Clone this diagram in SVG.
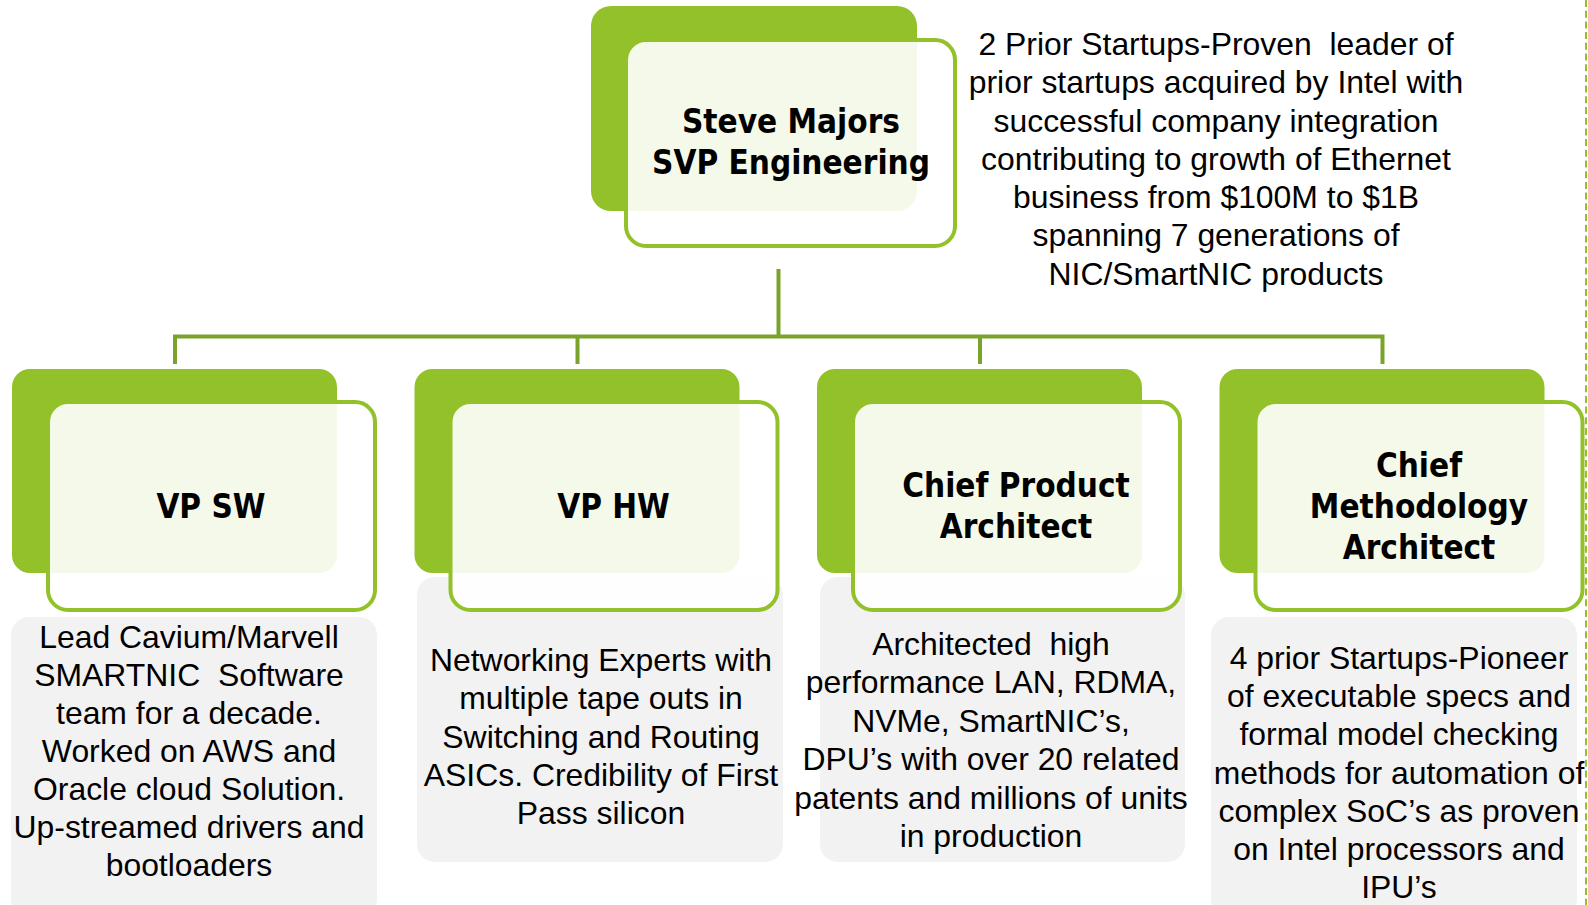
<svg xmlns="http://www.w3.org/2000/svg" width="1588" height="905" viewBox="0 0 1588 905">
  <style>
    .back { fill: #93c12a; }
    .front { fill: #ffffff; fill-opacity: 0.9; stroke: #93c12a; stroke-width: 4; }
    .note { fill: #f2f2f2; }
    .title { font-family: "DejaVu Sans Condensed", "DejaVu Sans", sans-serif; font-weight: bold; font-size: 33px; text-anchor: middle; fill: #000; }
    .body { font-family: "Liberation Sans", Arial, sans-serif; font-size: 31.9px; text-anchor: middle; fill: #000; }
    .link { fill: none; stroke: #7aa32b; stroke-width: 4; }
    .edge { fill: none; stroke: #93c12a; stroke-width: 2; stroke-dasharray: 7 3.7; }
  </style>

  <!-- reporting lines -->
  <g id="connectors">
    <path class="link" d="M778.5 269 V336.5"/>
    <path class="link" d="M175 364 V336.5 H1382.5 V364"/>
    <path class="link" d="M577.5 336.5 V364"/>
    <path class="link" d="M980 336.5 V364"/>
  </g>

  <!-- head of engineering -->
  <g id="svp">
    <rect class="back" x="591" y="6" width="326" height="205" rx="20"/>
    <rect class="front" x="626" y="40" width="329" height="206" rx="20"/>
    <text class="title" x="791" y="133">Steve Majors</text>
    <text class="title" x="791" y="174">SVP Engineering</text>
  </g>

  <g id="svp-summary">
    <text class="body" x="1216" y="55">2 Prior Startups-Proven &#160;leader of<tspan x="1216" dy="38.25">prior startups acquired by Intel with</tspan><tspan x="1216" dy="38.25">successful company integration</tspan><tspan x="1216" dy="38.25">contributing to growth of Ethernet</tspan><tspan x="1216" dy="38.25">business from $100M to $1B</tspan><tspan x="1216" dy="38.25">spanning 7 generations of</tspan><tspan x="1216" dy="38.25">NIC/SmartNIC products</tspan></text>
  </g>

  <!-- direct reports -->
  <g id="vp-sw">
    <rect class="note" x="11" y="617" width="366" height="300" rx="18"/>
    <rect class="back" x="12" y="369" width="325" height="204" rx="18"/>
    <rect class="front" x="48" y="402" width="327" height="208" rx="20"/>
    <text class="title" x="211" y="518">VP SW</text>
    <text class="body" x="189" y="648">Lead Cavium/Marvell<tspan x="189" dy="38">SMARTNIC &#160;Software</tspan><tspan x="189" dy="38">team for a decade.</tspan><tspan x="189" dy="38">Worked on AWS and</tspan><tspan x="189" dy="38">Oracle cloud Solution.</tspan><tspan x="189" dy="38">Up-streamed drivers and</tspan><tspan x="189" dy="38">bootloaders</tspan></text>
  </g>

  <g id="vp-hw">
    <rect class="note" x="417" y="577" width="366" height="285" rx="18"/>
    <rect class="back" x="414.5" y="369" width="325" height="204" rx="18"/>
    <rect class="front" x="450.5" y="402" width="327" height="208" rx="20"/>
    <text class="title" x="613.5" y="518">VP HW</text>
    <text class="body" x="601" y="671">Networking Experts with<tspan x="601" dy="38.25">multiple tape outs in</tspan><tspan x="601" dy="38.25">Switching and Routing</tspan><tspan x="601" dy="38.25">ASICs. Credibility of First</tspan><tspan x="601" dy="38.25">Pass silicon</tspan></text>
  </g>

  <g id="chief-product-architect">
    <rect class="note" x="820" y="577" width="365" height="285" rx="18"/>
    <rect class="back" x="817" y="369" width="325" height="204" rx="18"/>
    <rect class="front" x="853" y="402" width="327" height="208" rx="20"/>
    <text class="title" x="1016" y="497">Chief Product</text>
    <text class="title" x="1016" y="538">Architect</text>
    <text class="body" x="991" y="655">Architected &#160;high<tspan x="991" dy="38.4">performance LAN, RDMA,</tspan><tspan x="991" dy="38.4">NVMe, SmartNIC’s,</tspan><tspan x="991" dy="38.4">DPU’s with over 20 related</tspan><tspan x="991" dy="38.4">patents and millions of units</tspan><tspan x="991" dy="38.4">in production</tspan></text>
  </g>

  <g id="chief-methodology-architect">
    <rect class="note" x="1211" y="617" width="366" height="300" rx="18"/>
    <rect class="back" x="1219.5" y="369" width="325" height="204" rx="18"/>
    <rect class="front" x="1255.5" y="402" width="327" height="208" rx="20"/>
    <text class="title" x="1419" y="477">Chief</text>
    <text class="title" x="1419" y="518">Methodology</text>
    <text class="title" x="1419" y="559">Architect</text>
    <text class="body" x="1399" y="669">4 prior Startups-Pioneer<tspan x="1399" dy="38.2">of executable specs and</tspan><tspan x="1399" dy="38.2">formal model checking</tspan><tspan x="1399" dy="38.2">methods for automation of</tspan><tspan x="1399" dy="38.2">complex SoC’s as proven</tspan><tspan x="1399" dy="38.2">on Intel processors and</tspan><tspan x="1399" dy="38.2">IPU’s</tspan></text>
  </g>

  <!-- dotted page edge -->
  <line class="edge" x1="1586" y1="0" x2="1586" y2="905"/>
</svg>
